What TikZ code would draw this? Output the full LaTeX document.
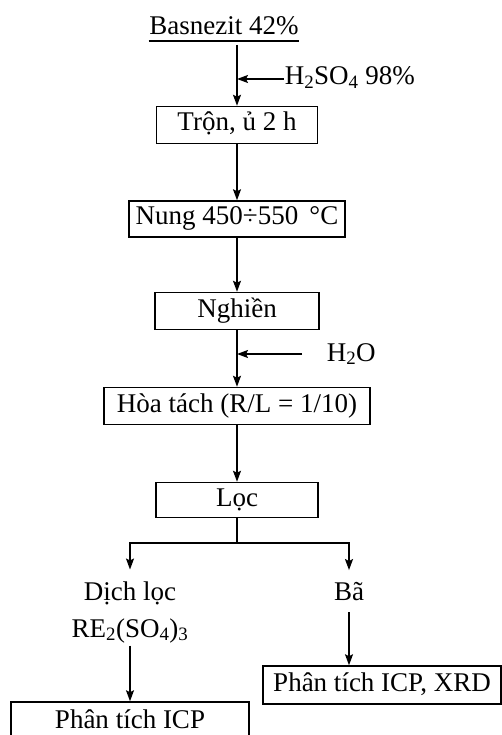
\documentclass[tikz,border=0pt]{standalone}
\usepackage{fontspec}
\setmainfont{Liberation Serif}
\usetikzlibrary{arrows.meta}

\begin{document}
\begin{tikzpicture}[x=1pt,y=-1pt,>={Stealth[length=11pt,width=8pt,inset=2pt]},
  font=\fontsize{27}{30}\selectfont, line width=1.5pt,
  stepbox/.style={draw,inner sep=0pt,minimum height=37pt,text height=18pt,text depth=6pt},
  plain/.style={inner sep=0pt}]
  % page = 502 x 735 (pixel grid of the scheme, y downwards)
  \useasboundingbox (0,0) rectangle (502,735);

  % raw material and additives
  \node[plain,anchor=base] (bas) at (224,35) {Basnezit 42\%};
  \draw ([yshift=-6pt]bas.base west) -- ([yshift=-6pt]bas.base east);
  \node[plain,anchor=base west] (acid) at (284,85) {H\textsubscript{2}SO\textsubscript{4} 98\%};
  \node[plain,anchor=base west] (water) at (326,361) {H\textsubscript{2}O};

  % process steps
  \node[stepbox,minimum width=161pt] (tron)   at (237,125) {Trộn, ủ 2 h};
  \node[stepbox,minimum width=216pt,minimum height=36pt] (nung) at (237,219) {Nung 450÷550\, °C};
  \node[stepbox,minimum width=164pt] (nghien) at (237,311) {Nghiền};
  \node[stepbox,minimum width=266pt] (hoa)    at (237,406) {Hòa tách (R/L = 1/10)};
  \node[stepbox,minimum width=162pt,minimum height=35pt] (loc) at (237,500) {Lọc};

  % products after filtering
  \node[plain,anchor=base] (dich) at (130,600) {Dịch lọc};
  \node[plain,anchor=base] (re)   at (130,637) {RE\textsubscript{2}(SO\textsubscript{4})\textsubscript{3}};
  \node[plain,anchor=base] (ba)   at (349,600) {Bã};
  \node[stepbox,minimum width=238pt,minimum height=40pt] (icp) at (130,722) {Phân tích ICP};
  \node[stepbox,minimum width=238pt,minimum height=38pt] (xrd) at (382,685) {Phân tích ICP, XRD};

  % junctions on the main line
  \coordinate (j1) at (237,79);
  \coordinate (j2) at (237,354);
  \coordinate (w0) at (302,354);
  \coordinate (fork) at (237,543);

  % main line
  \draw[->] ([yshift=-10pt]bas.base -| tron.north) -- (tron);
  \draw[->] (tron) -- (nung);
  \draw[->] (nung) -- (nghien);
  \draw[->] (nghien) -- (hoa);
  \draw[->] (hoa) -- (loc);
  \draw (loc) -- (fork);

  % side feeds
  \draw[->] (j1 -| acid.west) -- (j1);
  \draw[->] (w0) -- (j2);

  % split
  \draw[->] (fork) -| ([yshift=11pt]dich.north);
  \draw[->] (fork) -| ([yshift=11pt]ba.north);
  \draw[->] ([yshift=-2pt]re.south) -- (icp);
  \draw[->] ([yshift=-11pt]ba.south) -- (ba.south |- xrd.north);
\end{tikzpicture}
\end{document}
